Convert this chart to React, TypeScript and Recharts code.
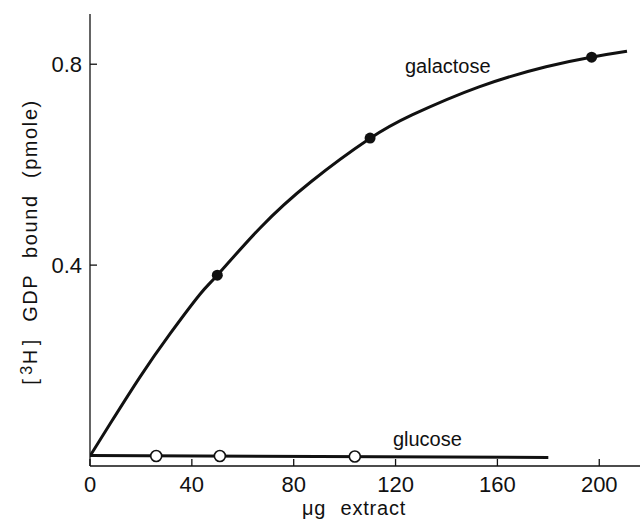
import * as React from "react";
import { ComposedChart, Line, Scatter, XAxis, YAxis, Label, ReferenceDot } from "recharts";

const xTicks = [0, 40, 80, 120, 160, 200];
const yTicks = [0.4, 0.8];

// measured points
const galactoseX = [50, 110, 197];
const galactoseY = [0.38, 0.653, 0.814];
const glucoseX = [26, 51, 104];
const glucoseY = [0.02, 0.02, 0.019];

// hand-drawn curves
const galCurveX = [0, 7.9, 19.6, 31.4, 43.2, 50, 66.8, 86.8, 109.6, 126.5, 152.8, 179.1, 196.8, 210.9];
const galCurveY = [0.02, 0.084, 0.177, 0.263, 0.342, 0.38, 0.474, 0.566, 0.651, 0.699, 0.755, 0.795, 0.814, 0.826];
const gluCurveX = [0, 180];
const gluCurveY = [0.021, 0.017];

const zip = (xs: number[], ys: number[]) => xs.map((x, i) => ({ x, y: ys[i] }));

const FONT = "'Liberation Sans', Arial, sans-serif";
const INK = "#111";

const XTick = ({ x, y, payload }: any) => (
  <g>
    <line x1={x} y1={y} x2={x} y2={y - 7} stroke={INK} strokeWidth={1.3} />
    <text x={x} y={y + 26} textAnchor="middle" fontSize={22} fill={INK} fontFamily={FONT}>
      {payload.value}
    </text>
  </g>
);

const YTick = ({ x, y, payload }: any) => (
  <g>
    <line x1={x} y1={y} x2={x + 7} y2={y} stroke={INK} strokeWidth={1.3} />
    <text x={x - 8} y={y + 8} textAnchor="end" fontSize={22} fill={INK} fontFamily={FONT}>
      {payload.value}
    </text>
  </g>
);

const YTitle = () => (
  <text
    x={0}
    y={0}
    transform="translate(37, 242) rotate(-90)"
    textAnchor="middle"
    fontSize={20}
    letterSpacing={1.6}
    wordSpacing={9}
    fill={INK}
    fontFamily={FONT}
  >
    <tspan>[</tspan>
    <tspan fontSize={16} dx={3} dy={-5}>3</tspan>
    <tspan dy={5}>H</tspan>
    <tspan dx={3}>]  GDP bound (pmole)</tspan>
  </text>
);

const App = () => {
  const galPts = zip(galactoseX, galactoseY);
  const gluPts = zip(glucoseX, glucoseY);
  const galCurve = zip(galCurveX, galCurveY);
  const gluCurve = zip(gluCurveX, gluCurveY);

  return (
    <div style={{ position: "absolute", left: 0, top: 0, background: "#fff" }}>
      <ComposedChart
        width={642}
        height={520}
        margin={{ top: 14, right: 2, bottom: 0, left: 0 }}
        style={{ fontFamily: FONT }}
      >
        <XAxis
          dataKey="x"
          type="number"
          domain={[0, 216]}
          ticks={xTicks}
          height={54}
          tickSize={0}
          tickMargin={0}
          tickLine={false}
          tick={<XTick />}
          axisLine={{ stroke: INK, strokeWidth: 1.3 }}
          allowDataOverflow
        >
          <Label
            value="μg extract"
            position="insideBottom"
            offset={5}
            fontSize={20}
            letterSpacing={0.8}
            wordSpacing={8}
            fill={INK}
            dx={-11}
          />
        </XAxis>
        <XAxis
          xAxisId="top"
          orientation="top"
          type="number"
          domain={[0, 216]}
          height={0}
          tick={false}
          tickLine={false}
          axisLine={{ stroke: "#444", strokeWidth: 1.3 }}
        />
        <YAxis
          dataKey="y"
          type="number"
          domain={[0, 0.9]}
          ticks={yTicks}
          width={90}
          tickSize={0}
          tickMargin={0}
          tickLine={false}
          tick={<YTick />}
          axisLine={{ stroke: INK, strokeWidth: 1.3 }}
          allowDataOverflow
        >
          <Label content={<YTitle />} />
        </YAxis>
        <YAxis
          yAxisId="right"
          orientation="right"
          type="number"
          domain={[0, 0.9]}
          width={0}
          tick={false}
          tickLine={false}
          axisLine={{ stroke: INK, strokeWidth: 1.3 }}
        />
        <Line
          data={galCurve}
          dataKey="y"
          type="natural"
          stroke={INK}
          strokeWidth={3}
          dot={false}
          activeDot={false}
          isAnimationActive={false}
        />
        <Line
          data={gluCurve}
          dataKey="y"
          type="linear"
          stroke={INK}
          strokeWidth={3}
          dot={false}
          activeDot={false}
          isAnimationActive={false}
        />
        <Scatter
          data={galPts}
          dataKey="y"
          fill={INK}
          shape={(p: any) => <circle cx={p.cx} cy={p.cy} r={5.5} fill={INK} />}
          isAnimationActive={false}
        />
        <Scatter
          data={gluPts}
          dataKey="y"
          fill="#fff"
          shape={(p: any) => <circle cx={p.cx} cy={p.cy} r={5.5} fill="#fff" stroke={INK} strokeWidth={1.6} />}
          isAnimationActive={false}
        />
        <ReferenceDot
          x={140.5}
          y={0.796}
          r={0}
          fill="none"
          stroke="none"
          label={{ value: "galactose", position: "center", fontSize: 20, fill: INK }}
        />
        <ReferenceDot
          x={132.5}
          y={0.054}
          r={0}
          fill="none"
          stroke="none"
          label={{ value: "glucose", position: "center", fontSize: 20, fill: INK }}
        />
      </ComposedChart>
    </div>
  );
};

export default App;
